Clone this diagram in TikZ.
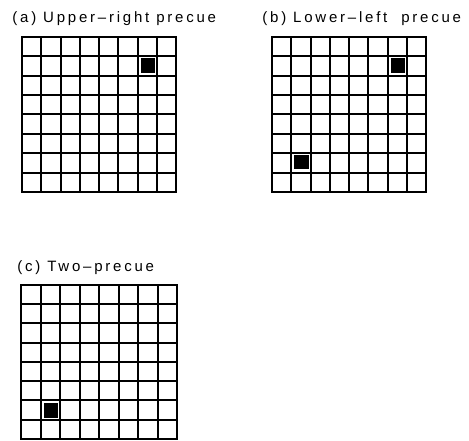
\documentclass[tikz,border=0pt]{standalone}
\usepackage{fontspec}
\setmainfont{Liberation Sans}[LetterSpace=18.5]
\usetikzlibrary{positioning}

\begin{document}
\begin{tikzpicture}[x=1pt, y=1pt, thick,
        gridline/.style={line width=1.6pt},
        frame/.style={line width=2.6pt},
        cue/.style={fill=black},
        caption/.style={anchor=base west, inner sep=0pt, font=\fontsize{15}{17}\selectfont}]
        \useasboundingbox (0,0) rectangle (469,440);

        % Grid (a): one cue, upper right
        \coordinate (grid_a) at (22,248);
        \node[caption] at (12,417) (cap_a) {(a) Upper–right precue};
        \begin{scope}[shift={(grid_a)}]
            \foreach \x in {19,39,58,77,96,116,135} \draw[gridline] (\x,0) -- (\x,155);
            \foreach \y in {19,39,58,78,97,116,136} \draw[gridline] (0,\y) -- (154,\y);
            \draw[frame] (0,0) rectangle (154,155);
            \fill[cue] (118.5,118.5) rectangle (132.5,133.5);
        \end{scope}

        % Grid (b): two cues, upper right and lower left
        \coordinate (grid_b) at (272,248);
        \node[caption] at (262,417) (cap_b) {(b) Lower–left~~precue};
        \begin{scope}[shift={(grid_b)}]
            \foreach \x in {19,39,58,77,96,116,135} \draw[gridline] (\x,0) -- (\x,155);
            \foreach \y in {19,39,58,78,97,116,136} \draw[gridline] (0,\y) -- (154,\y);
            \draw[frame] (0,0) rectangle (154,155);
            \fill[cue] (118.5,118.5) rectangle (132.5,133.5);
            \fill[cue] (21.5,22.5) rectangle (36.5,37);
        \end{scope}

        % Grid (c): cue lower left
        \coordinate (grid_c) at (21,1);
        \node[caption] at (17,169) (cap_c) {(c)~Two–precue};
        \begin{scope}[shift={(grid_c)}]
            \foreach \x in {20,39,59,78,98,117,137} \draw[gridline] (\x,0) -- (\x,154);
            \foreach \y in {19,39,58,77,96,116,135} \draw[gridline] (0,\y) -- (156,\y);
            \draw[frame] (0,0) rectangle (156,154);
            \fill[cue] (22.5,21.5) rectangle (37,36.5);
        \end{scope}

    \end{tikzpicture}
\end{document}
